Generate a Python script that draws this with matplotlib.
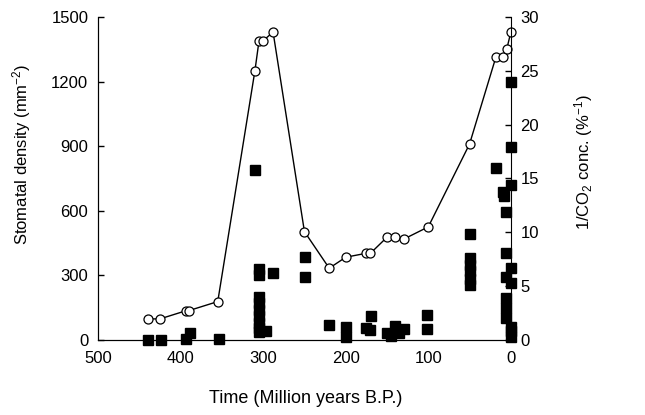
import matplotlib
matplotlib.use("Agg")
import matplotlib.pyplot as plt

plt.rcParams['font.family'] = ['Liberation Sans', 'DejaVu Sans']
plt.rcParams['mathtext.default'] = 'regular'

# 1/CO2 concentration curve (right axis)
co2_time = [440, 425, 393, 390, 355, 310, 305, 300, 288, 250, 220, 200,
            175, 170, 150, 140, 130, 100, 50, 18, 10, 5, 0]
co2_inv = [1.95, 1.95, 2.72, 2.72, 3.56, 25.0, 27.8, 27.8, 28.6, 10.06, 6.66, 7.68,
           8.05, 8.05, 9.54, 9.54, 9.35, 10.5, 18.2, 26.3, 26.3, 27.0, 28.6]

# stomatal density measurements (left axis)
sd_time = [439, 424, 394, 389, 354,
           310, 305, 305, 288, 305, 305, 305, 305, 305, 305, 305, 297,
           249, 249, 220, 200, 200, 175, 170, 169,
           150, 145, 140, 135, 130, 102, 102,
           50, 50, 50, 50, 50, 50,
           18, 10, 8, 6, 6, 6, 6, 6, 6,
           0, 0, 0, 0, 0, 0, 0, 0]
sd_vals = [0, 0, 5, 31, 5,
           790, 330, 300, 310, 200, 170, 140, 110, 80, 55, 35, 40,
           384, 294, 70, 60, 15, 55, 45, 111,
           30, 20, 65, 30, 50, 116, 50,
           491, 380, 350, 320, 285, 255,
           797, 685, 670, 596, 402, 294, 194, 150, 100,
           1200, 898, 720, 333, 263, 62, 39, 15]

fig, ax = plt.subplots(figsize=(6.45, 4.15), dpi=100)
fig.subplots_adjust(left=0.152, right=0.792, bottom=0.181, top=0.959)
ax2 = ax.twinx()

ax.plot(sd_time, sd_vals, 's', color='black', markersize=6.5, clip_on=False, zorder=3)
ax2.plot(co2_time, co2_inv, '-o', color='black', markerfacecolor='white',
         markeredgecolor='black', markersize=6.5, linewidth=1, markeredgewidth=0.9,
         clip_on=False)

ax.set_xlim(500, 0)
ax.set_ylim(0, 1500)
ax2.set_ylim(0, 30)
ax.set_xticks([500, 400, 300, 200, 100, 0])
ax.set_yticks([0, 300, 600, 900, 1200, 1500])
ax2.set_yticks([0, 5, 10, 15, 20, 25, 30])

for a in (ax, ax2):
    a.spines['top'].set_visible(False)
    a.tick_params(direction='in', length=4, width=1, labelsize=12, pad=7)
ax.spines['right'].set_visible(False)
ax.tick_params(axis='x', length=0, pad=8)

ax.set_xlabel('Time (Million years B.P.)', fontsize=13)
ax.set_ylabel('Stomatal density (mm$^{-2}$)', fontsize=12)
ax2.set_ylabel('1/CO$_2$ conc. (%$^{-1}$)', fontsize=12)
ax.xaxis.set_label_coords(0.502, -0.155)
ax.yaxis.set_label_coords(-0.157, 0.573)
ax2.yaxis.set_label_coords(1.148, 0.551)

fig.savefig('out.png', dpi=100)
